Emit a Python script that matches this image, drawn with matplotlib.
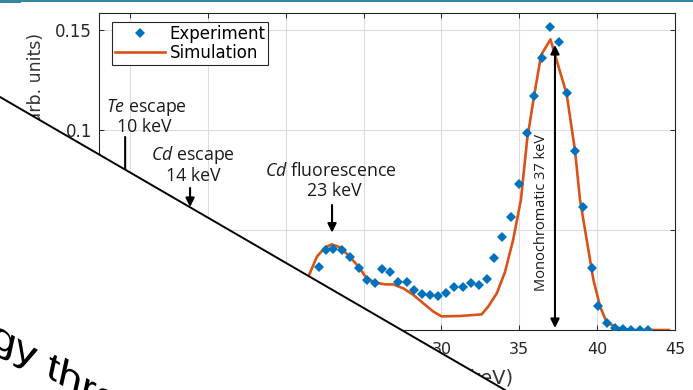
# coding=utf-8
"""
Spectrum slide crop: experiment vs simulation with a diagonal white overlay.
"""

import matplotlib
matplotlib.use('Agg')
import matplotlib.pyplot as plt
from matplotlib.patches import Polygon, PathPatch, Rectangle
from matplotlib.textpath import TextPath
from matplotlib.font_manager import FontProperties
from matplotlib.transforms import Affine2D, IdentityTransform
from matplotlib.ticker import FuncFormatter

# Data
exp_energy = [22.1, 22.57, 23.06, 23.6, 24.13, 24.67, 25.2, 25.73, 26.2, 26.7,
              27.23, 27.77, 28.24, 28.78, 29.27, 29.76, 30.27, 30.8, 31.36,
              31.88, 32.39, 32.9, 33.4, 33.9, 34.44, 34.98, 35.5, 35.94,
              36.46, 37.0, 37.57, 38.04, 38.58, 39.1, 39.65, 40.03, 40.6,
              41.15, 41.68, 42.2, 42.75, 43.25]
exp_counts = [0.0313, 0.040, 0.0407, 0.040, 0.0363, 0.0308, 0.025, 0.0237,
              0.0305, 0.029, 0.0242, 0.0238, 0.020, 0.018, 0.0175, 0.017,
              0.0183, 0.0213, 0.0213, 0.0237, 0.0225, 0.0253, 0.0358, 0.0467,
              0.0563, 0.073, 0.0987, 0.117, 0.136, 0.1517, 0.144, 0.1183,
              0.0895, 0.0613, 0.0312, 0.012, 0.0037, 0.0008, 0.0003, 0.0002,
              0.0, 0.0002]

sim_energy = [20.5, 21.45, 22.0, 22.52, 22.95, 23.5, 24.1, 24.67, 25.2, 25.73,
              26.4, 26.9, 27.55, 28.2, 28.84, 29.48, 30.0, 31.2, 32.58, 33.0,
              33.55, 34.08, 34.6, 35.1, 35.5, 35.94, 36.4, 37.0, 38.04, 38.58,
              38.9, 39.33, 39.76, 40.19, 40.6, 41.26, 42.1, 44.6]
sim_counts = [0.012, 0.0267, 0.0367, 0.0413, 0.0428, 0.0413, 0.0367, 0.0317,
              0.0258, 0.0237, 0.0228, 0.0228, 0.0208, 0.0175, 0.0133, 0.0092,
              0.0068, 0.007, 0.0078, 0.0117, 0.0183, 0.029, 0.045, 0.065,
              0.095, 0.1167, 0.1375, 0.1453, 0.118, 0.0895, 0.065, 0.045,
              0.025, 0.0117, 0.004, 0.0012, 0.0, 0.0]

x_ticks = [10, 15, 20, 25, 30, 35, 40, 45]
y_ticks = [0, 0.05, 0.1, 0.15]

W, H = 693, 390
BLUE = '#0072BD'
ORANGE = '#D95319'
AXC = '#262626'

plt.rcParams['mathtext.fontset'] = 'custom'
plt.rcParams['mathtext.rm'] = 'Open Sans'
plt.rcParams['mathtext.it'] = 'Open Sans:italic'

fig = plt.figure(figsize=(W / 100.0, H / 100.0), dpi=100)
ax = fig.add_axes([99.0 / W, 60.0 / H, 576.0 / W, 317.0 / H])

ax.plot(sim_energy, sim_counts, color=ORANGE, lw=1.9, label='Simulation', zorder=3)
ax.plot(exp_energy, exp_counts, 'D', color=BLUE, ms=5.2, mew=0, label='Experiment',
        zorder=4)

ax.set_xlim(8, 45)
ax.set_ylim(0, 0.1585)
ax.set_xticks(x_ticks)
ax.set_yticks(y_ticks)
ax.yaxis.set_major_formatter(FuncFormatter(lambda v, p: '{0:g}'.format(v)))
ax.grid(True, color='#dcdcdc', lw=0.8)
ax.set_axisbelow(True)
ax.tick_params(direction='in', length=3.6, width=0.7, top=True, right=True,
               colors=AXC, labelsize=11.5, labelfontfamily='DejaVu Sans')
ax.tick_params(axis='x', pad=9)
ax.tick_params(axis='y', pad=5, labelsize=12)
for s in ax.spines.values():
    s.set_color(AXC)
    s.set_linewidth(0.8)

# Legend, experiment first
h, l = ax.get_legend_handles_labels()
leg = ax.legend(h[::-1], l[::-1], loc='upper left', bbox_to_anchor=(0.0226, 0.9716),
                borderaxespad=0, fancybox=False, edgecolor=AXC, framealpha=1,
                handlelength=3.0, handletextpad=0.3, labelspacing=0.1,
                borderpad=0.15, prop={'family': 'DejaVu Sans', 'size': 12})
leg.get_frame().set_linewidth(0.8)

# Annotations
note = dict(fontsize=12.8, family='Open Sans', ha='center', va='center', color='#1a1a1a')
ax.text(11.06, 0.1115, r'$\mathit{Te}$ escape', **note)
ax.text(10.93, 0.1015, '10 keV', **note)
ax.text(14.01, 0.0875, r'$\mathit{Cd}$ escape', **note)
ax.text(14.08, 0.077, '14 keV', **note)
ax.text(22.91, 0.07925, r'$\mathit{Cd}$ fluorescence', **note)
ax.text(23.1, 0.0695, '23 keV', **note)
ax.text(36.4, 0.0588, 'Monochromatic 37 keV', rotation=90, fontsize=10.5,
        family='Open Sans', ha='center', va='center', color='#1a1a1a')

arrow = dict(arrowstyle='-|>', color='k', lw=1.5, mutation_scale=13,
             shrinkA=0, shrinkB=0)
ax.annotate('', xy=(9.68, 0.06), xytext=(9.68, 0.0965), arrowprops=arrow)
ax.annotate('', xy=(13.85, 0.0615), xytext=(13.85, 0.071), arrowprops=arrow)
ax.annotate('', xy=(22.97, 0.0487), xytext=(22.97, 0.0625), arrowprops=arrow)
ax.annotate('', xy=(37.29, 0.001), xytext=(37.29, 0.1425),
            arrowprops=dict(arrowstyle='<|-|>', color='k', lw=1.5, mutation_scale=13,
                            shrinkA=0, shrinkB=0))

# Axis labels (mostly hidden by the overlay)
fig.text(36.0 / W, 1 - 33.0 / H, 'Normalized intensity (arb. units)', rotation=90,
         ha='center', va='top', fontsize=12.5, family='DejaVu Sans', color='#333333')
fig.text(513.0 / W, 1 - 378.0 / H, 'Photon energy (keV)', ha='right', va='center',
         fontsize=14, family='DejaVu Sans', color='#333333')

# White overlay below the diagonal, with its black edge
ident = IdentityTransform()
fig.add_artist(Polygon([(0, H - 97), (505, 0), (0, 0)], closed=True, fc='white',
                       ec='none', transform=ident, zorder=10))
fig.add_artist(plt.Line2D([0, 505], [H - 97, 0], color='k', lw=1.4,
                          transform=ident, zorder=11))

# Big sheared slide text
fp = FontProperties(family='Liberation Sans', style='italic')
tp = TextPath((0, 0), 'Energy threshold', size=41, prop=fp)
shear = Affine2D([[1, 0, 0], [-0.58, 1, 0], [0, 0, 1]])
place = shear + Affine2D().translate(-94, H - 295)
fig.add_artist(PathPatch(tp, fc='k', ec='none', transform=place, zorder=12))

# Top banner
fig.add_artist(Rectangle((0, H - 3), 21, 3, fc='#3584a4', ec='none',
                         transform=ident, zorder=13))
fig.add_artist(Rectangle((21, H - 2), W - 21, 2, fc='#3584a4', ec='none',
                         transform=ident, zorder=13))

fig.savefig('out.png', dpi=100)
